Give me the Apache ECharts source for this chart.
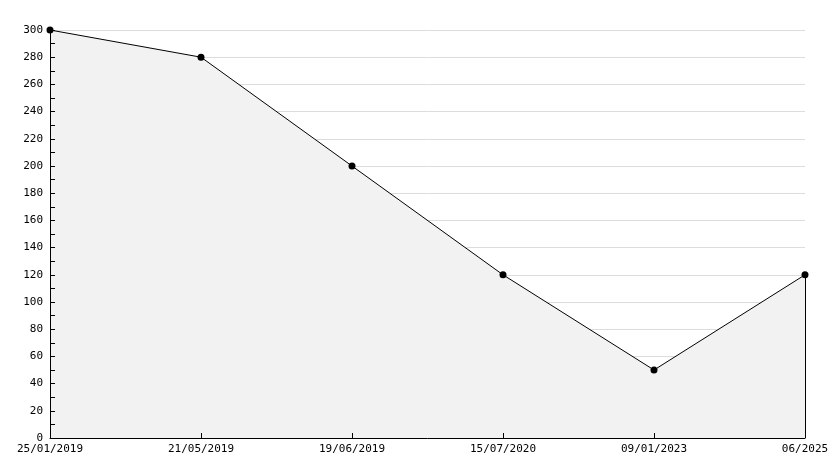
<!DOCTYPE html>
<html>
<head>
<meta charset="utf-8">
<script src="https://cdn.jsdelivr.net/npm/echarts@6/dist/echarts.min.js"></script>
<style>html,body{margin:0;padding:0;background:#fff}#c{width:834px;height:468px}</style>
</head>
<body>
<div id="c"></div>
<script>
var categories = ['25/01/2019', '21/05/2019', '19/06/2019', '15/07/2020', '09/01/2023', '06/2025'];
var values = [300, 280, 200, 120, 50, 120];
var yMin = 0, yMax = 300, yStep = 20;

var FONT = 'DejaVu Sans Mono';
var chart = echarts.init(document.getElementById('c'), null, {renderer: 'canvas'});
var lastIdx = categories.length - 1;
chart.setOption({
  animation: false,
  backgroundColor: '#ffffff',
  grid: {left: 50, right: 29, top: 30, bottom: 30, containLabel: false},
  xAxis: {
    type: 'category',
    data: categories,
    boundaryGap: false,
    z: 10,
    axisLine: {lineStyle: {color: '#000', width: 1}},
    axisTick: {inside: true, length: 5, lineStyle: {color: '#000'}},
    axisLabel: {color: '#000', fontFamily: FONT, fontSize: 11, margin: 6, interval: 0},
    splitLine: {show: false}
  },
  yAxis: [{
    type: 'value',
    position: 'left',
    min: yMin, max: yMax, interval: yStep,
    z: 0,
    axisLine: {show: false},
    axisTick: {show: false},
    axisLabel: {show: false},
    splitLine: {show: true, lineStyle: {color: '#dcdcdc', width: 1}}
  }, {
    type: 'value',
    position: 'left',
    offset: 0,
    min: yMin, max: yMax, interval: yStep,
    z: 10,
    axisLine: {show: true, lineStyle: {color: '#000', width: 1}},
    axisTick: {show: true, inside: true, length: 5, lineStyle: {color: '#000'}},
    minorTick: {show: true, splitNumber: 2, length: 5, lineStyle: {color: '#000'}},
    axisLabel: {color: '#000', fontFamily: FONT, fontSize: 11, margin: 7},
    splitLine: {show: false}
  }],
  series: [{
    type: 'line',
    yAxisIndex: 0,
    data: values,
    symbol: 'circle',
    symbolSize: 7,
    itemStyle: {color: '#000'},
    lineStyle: {color: '#000', width: 1},
    areaStyle: {color: '#f2f2f2', opacity: 1},
    markLine: {
      silent: true,
      symbol: ['none', 'none'],
      label: {show: false},
      lineStyle: {color: '#000', width: 1, type: 'solid'},
      data: [[{xAxis: lastIdx, yAxis: values[lastIdx]}, {xAxis: lastIdx, yAxis: yMin}]]
    }
  }]
});
</script>
</body>
</html>
